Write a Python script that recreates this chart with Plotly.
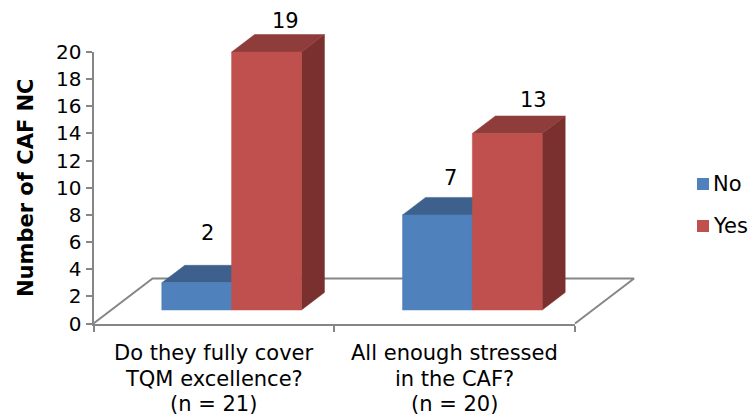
import plotly.graph_objects as go

categories = [["Do they fully cover", "TQM excellence?", "(n = 21)"],
              ["All enough stressed", "in the CAF?", "(n = 20)"]]
series_names = ["No", "Yes"]
no_values = [2, 7]
yes_values = [19, 13]
y_ticks = list(range(0, 21, 2))

# style and geometry
W, H = 751, 415
L, R, T, B = 93.5, 176, 52, 91.5
DX, DY = 0.2453, 3.315          # oblique projection of the floor depth, in axis units
D0, D1 = 0.30, 0.69             # front and back depth of the bars
BAR_W = 0.29
FONT = "DejaVu Sans"
FS = 21
TICK_FS = 20
GRAY = "#868686"
PALETTE = {"No": ("#4F81BD", "#3D618C", "#3D618C"), "Yes": ("#C0504D", "#8F3D3B", "#7A302E")}
LABEL_SHIFT = {"No": [(11, 50), (13, 37)], "Yes": [(19, 31), (26, 34)]}

# second pair of axes spans the whole page so the 3D faces are not clipped at the plot frame
PX_X = (W - L - R) / 2
PX_Y = (H - T - B) / 20
X2_RANGE = [-L / PX_X, (W - L) / PX_X]
Y2_RANGE = [-(B) / PX_Y, (H - B) / PX_Y]


def proj(x, depth, v=0):
    return x + depth * DX, v + depth * DY


def poly(points, color):
    xs = [p[0] for p in points] + [points[0][0]]
    ys = [p[1] for p in points] + [points[0][1]]
    return go.Scatter(x=xs, y=ys, xaxis="x2", yaxis="y2", mode="lines", fill="toself", fillcolor=color,
                      line=dict(color=color, width=0.5), hoverinfo="skip", showlegend=False)


fig = go.Figure()

# invisible trace keeps the primary axes alive
fig.add_trace(go.Scatter(x=[0, 2], y=[0, 20], mode="none", hoverinfo="skip", showlegend=False))

# floor outline
floor = [proj(0, 0), proj(0, 1), proj(2, 1), proj(2, 0)]
fig.add_trace(go.Scatter(x=[p[0] for p in floor], y=[p[1] for p in floor], xaxis="x2", yaxis="y2",
                         mode="lines", line=dict(color=GRAY, width=2),
                         hoverinfo="skip", showlegend=False))

annotations = []
for s, (name, values) in enumerate(zip(series_names, [no_values, yes_values])):
    front, top, side = PALETTE[name]
    for c, v in enumerate(values):
        x0 = c + 0.5 - BAR_W + s * BAR_W
        x1 = x0 + BAR_W
        fig.add_trace(poly([proj(x1, D0), proj(x1, D1), proj(x1, D1, v), proj(x1, D0, v)], side))
        fig.add_trace(poly([proj(x0, D0, v), proj(x1, D0, v), proj(x1, D1, v), proj(x0, D1, v)], top))
        fig.add_trace(poly([proj(x0, D0), proj(x1, D0), proj(x1, D0, v), proj(x0, D0, v)], front))
        ax, ay = proj((x0 + x1) / 2, D0, v)
        sx, sy = LABEL_SHIFT[name][c]
        annotations.append(dict(x=ax, y=ay, xref="x2", yref="y2", text=str(v), showarrow=False,
                                xshift=sx, yshift=sy, xanchor="center", yanchor="middle",
                                font=dict(family=FONT, size=FS, color="#000000")))

# category labels
LINE_CENTERS = [29, 55, 80]
for c, lines in enumerate(categories):
    for line, off in zip(lines, LINE_CENTERS):
        annotations.append(dict(x=c + 0.5, y=0, xref="x2", yref="y2", text=line, showarrow=False,
                                yshift=-off, xanchor="center", yanchor="middle",
                                font=dict(family=FONT, size=FS, color="#000000")))

# legend
shapes = []
for name, cy in zip(series_names, [184, 226]):
    shapes.append(dict(type="rect", xref="paper", yref="paper",
                       x0=697 / W, x1=709 / W,
                       y0=(H - cy - 6) / H, y1=(H - cy + 6) / H,
                       fillcolor=PALETTE[name][0], line=dict(width=0)))
    annotations.append(dict(x=711 / W, y=(H - cy) / H,
                            xref="paper", yref="paper", text=name, showarrow=False,
                            xanchor="left", yanchor="middle",
                            font=dict(family=FONT, size=FS, color="#000000")))

fig.update_layout(
    width=W, height=H, autosize=False, paper_bgcolor="white", plot_bgcolor="rgba(0,0,0,0)",
    margin=dict(l=0, r=0, t=0, b=0, pad=0), showlegend=False,
    annotations=annotations, shapes=shapes,
    xaxis=dict(domain=[L / W, (W - R) / W], range=[0, 2], tickmode="array", tickvals=[0, 1, 2],
               ticktext=["", "", ""], automargin=False, anchor="y",
               ticks="outside", ticklen=6, tickwidth=2, tickcolor=GRAY,
               showline=True, linecolor=GRAY, linewidth=2, showgrid=False, zeroline=False),
    yaxis=dict(domain=[B / H, (H - T) / H], range=[0, 20], tickmode="array", tickvals=y_ticks,
               automargin=False, anchor="x",
               ticks="outside", ticklen=6, tickwidth=2, tickcolor=GRAY,
               showline=True, linecolor=GRAY, linewidth=2, showgrid=False, zeroline=False,
               tickfont=dict(family=FONT, size=TICK_FS, color="#000000"),
               title=dict(text="<b>Number of CAF NC</b>", standoff=17,
                          font=dict(family=FONT, size=FS, color="#000000"))),
    xaxis2=dict(domain=[0, 1], range=X2_RANGE, anchor="y2", visible=False, automargin=False),
    yaxis2=dict(domain=[0, 1], range=Y2_RANGE, anchor="x2", visible=False, automargin=False),
)

fig.write_html("out.html", config={"displayModeBar": False},
               post_script="document.body.style.margin='0';")
